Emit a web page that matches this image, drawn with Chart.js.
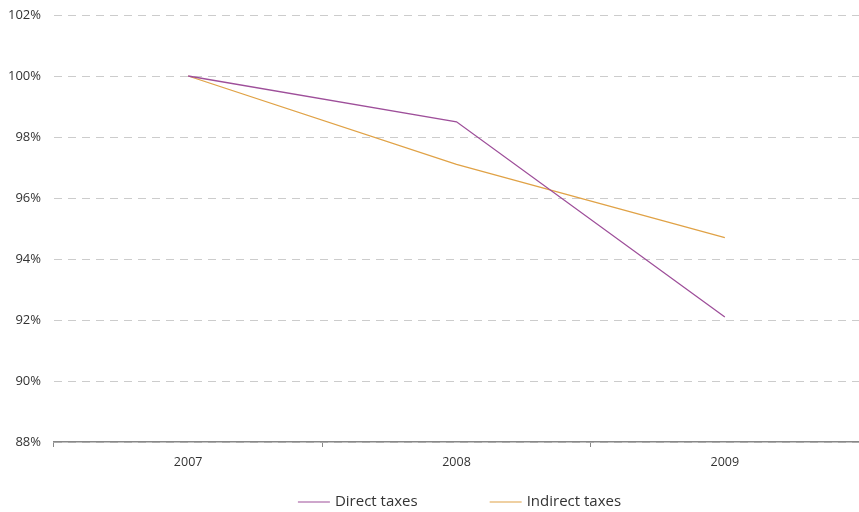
<!DOCTYPE html>
<html>
<head>
<meta charset="utf-8">
<script src="https://cdn.jsdelivr.net/npm/chart.js@4.4.1/dist/chart.umd.min.js"></script>
<style>
html,body{margin:0;padding:0;background:#fff;}
#wrap{width:859px;height:512px;position:relative;}
</style>
</head>
<body>
<div id="wrap"><canvas id="c"></canvas></div>
<script>
const categories = ["2007", "2008", "2009"];
const directTaxes = [100, 98.5, 92.1];
const indirectTaxes = [100, 97.1, 94.7];
const seriesNames = ["Direct taxes", "Indirect taxes"];
const yTicks = [88, 90, 92, 94, 96, 98, 100, 102];

const FONT = "'Open Sans', 'Noto Sans', sans-serif";
const TEXT = '#333333';

const legendPlugin = {
  id: 'lineLegend',
  afterDraw(chart) {
    const ctx = chart.ctx;
    const ca = chart.chartArea;
    ctx.save();
    ctx.font = '15px ' + FONT;
    const lineW = 32, gapText = 5, gapItem = 72;
    const items = chart.data.datasets.map(d => ({label: d.label, color: d.borderColor, w: ctx.measureText(d.label).width}));
    let total = 0;
    items.forEach((it, i) => { total += lineW + gapText + it.w + (i < items.length - 1 ? gapItem : 0); });
    let x = (ca.left + ca.right) / 2 + 3 - total / 2;
    const y = 502;
    items.forEach(it => {
      ctx.strokeStyle = it.color;
      ctx.lineWidth = 1.2;
      ctx.beginPath();
      ctx.moveTo(x, y);
      ctx.lineTo(x + lineW, y);
      ctx.stroke();
      ctx.fillStyle = TEXT;
      ctx.textBaseline = 'middle';
      ctx.textAlign = 'left';
      ctx.fillText(it.label, x + lineW + gapText, y);
      x += lineW + gapText + it.w + gapItem;
    });
    ctx.restore();
  }
};

new Chart(document.getElementById('c'), {
  type: 'line',
  data: {
    labels: categories,
    datasets: [
      {label: seriesNames[0], data: directTaxes, borderColor: '#9e4f9a', borderWidth: 1.3, pointRadius: 0, tension: 0, fill: false},
      {label: seriesNames[1], data: indirectTaxes, borderColor: '#e0a246', borderWidth: 1.3, pointRadius: 0, tension: 0, fill: false}
    ]
  },
  options: {
    responsive: true,
    maintainAspectRatio: false,
    animation: false,
    layout: {padding: {top: 15, right: 0, left: 0, bottom: 0}},
    plugins: {legend: {display: false}, tooltip: {enabled: false}},
    scales: {
      x: {
        offset: true,
        grid: {offset: true, drawOnChartArea: false, drawTicks: true, tickLength: 5, tickColor: '#888888', lineWidth: 1},
        border: {display: true, color: '#888888', width: 1.5},
        ticks: {color: TEXT, font: {family: FONT, size: 12.5}, padding: 8},
        afterFit(scale) { scale.height = 70; scale.paddingLeft = 0; scale.paddingRight = 0; }
      },
      y: {
        min: 88, max: 102,
        afterBuildTicks(scale) { scale.ticks = yTicks.map(v => ({value: v})); },
        grid: {color: '#cccccc', lineWidth: 1, drawTicks: false},
        border: {display: false, dash: [8, 6]},
        ticks: {color: TEXT, font: {family: FONT, size: 13}, padding: 13, callback: v => v + '%'},
        afterFit(scale) { scale.width = 54; scale.paddingTop = 0; scale.paddingBottom = 0; }
      }
    }
  },
  plugins: [legendPlugin]
});
</script>
</body>
</html>
